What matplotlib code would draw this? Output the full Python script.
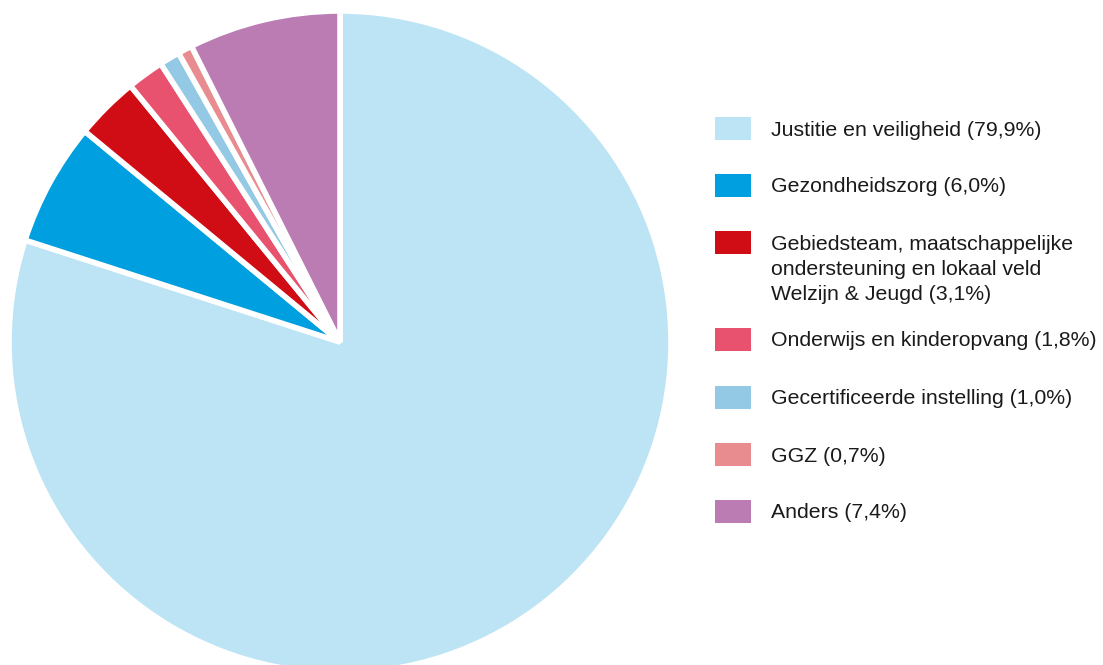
import matplotlib
matplotlib.use("Agg")
import matplotlib.pyplot as plt
from matplotlib.patches import Rectangle

labels = [
    "Justitie en veiligheid (79,9%)",
    "Gezondheidszorg (6,0%)",
    "Gebiedsteam, maatschappelijke\nondersteuning en lokaal veld\nWelzijn & Jeugd (3,1%)",
    "Onderwijs en kinderopvang (1,8%)",
    "Gecertificeerde instelling (1,0%)",
    "GGZ (0,7%)",
    "Anders (7,4%)",
]
values = [79.9, 6.0, 3.1, 1.8, 1.0, 0.7, 7.4]
colors = ["#BDE4F5", "#009FE0", "#D00C14", "#E8526F", "#93C9E5", "#E88C90", "#BA7CB3"]

W, H = 1103, 665
fig = plt.figure(figsize=(W / 100, H / 100), dpi=100)
plt.rcParams['font.family'] = ['Liberation Sans', 'DejaVu Sans']

# pie: centre (340, 342) px
cx, cy, r = 340, 342, 331
ax = fig.add_axes([(cx - r) / W, (H - cy - r) / H, 2 * r / W, 2 * r / H])
ax.pie(values, colors=colors, startangle=90, counterclock=False,
       wedgeprops=dict(edgecolor="white", linewidth=4, joinstyle="bevel"))
ax.set_xlim(-1, 1)
ax.set_ylim(-1, 1)
ax.set_aspect("equal")
ax.axis("off")

# legend drawn by hand
box_x, box_w, box_h = 715, 36, 23
text_x = 771
row_y = [128.5, 185.5, 242.5, 339.5, 397.5, 454.5, 511.5]
line_gap = 25.5
for lab, col, y in zip(labels, colors, row_y):
    fig.patches.append(Rectangle((box_x / W, (H - y - box_h / 2) / H), box_w / W, box_h / H,
                                 transform=fig.transFigure, facecolor=col, edgecolor="none"))
    for i, line in enumerate(lab.split("\n")):
        fig.text(text_x / W, (H - (y + 1.5 + i * line_gap)) / H, line,
                 fontsize=15.3, color="#1a1a1a", va="center", ha="left")

fig.savefig("out.png", dpi=100)
